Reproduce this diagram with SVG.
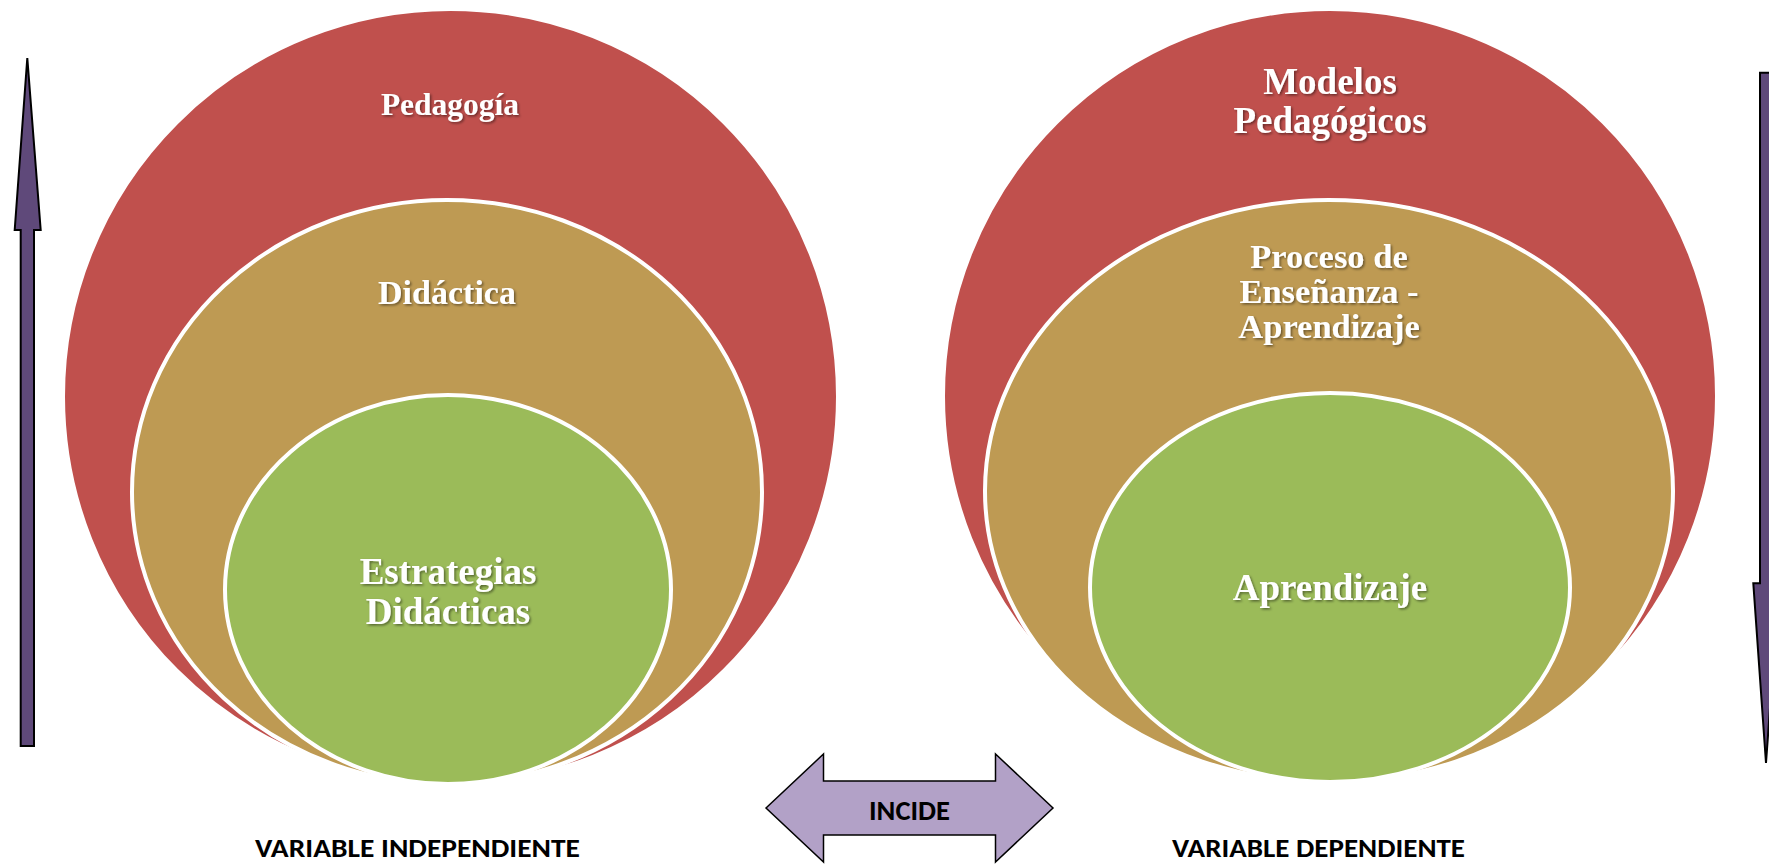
<svg xmlns="http://www.w3.org/2000/svg" width="1769" height="866" viewBox="0 0 1769 866">
  <defs>
    <filter id="txtShadow" x="-10%" y="-20%" width="120%" height="150%">
      <feDropShadow dx="1.5" dy="1.5" stdDeviation="1" flood-color="#000" flood-opacity="0.45"/>
    </filter>
  </defs>
  <style>
    .ring { stroke: #ffffff; stroke-width: 4; }
    .red { fill: #C0504D; }
    .tan { fill: #BE9A53; }
    .green { fill: #9BBB59; }
    .lbl { font-family: "Liberation Serif", "Times New Roman", serif; font-weight: bold; fill: #ffffff; text-anchor: middle; filter: url(#txtShadow); }
    .cap { font-family: Carlito, Lato, "Open Sans", sans-serif; font-weight: bold; fill: #000000; text-anchor: middle; }
    .darrow { fill: #5F497A; stroke: #000000; stroke-width: 2; stroke-linejoin: miter; }
    .larrow { fill: #B2A1C7; stroke: #000000; stroke-width: 1.5; stroke-linejoin: miter; }
  </style>

  <rect x="0" y="0" width="1769" height="866" fill="#ffffff"/>

  <!-- independent variable: nested sets -->
  <g id="pedagogia">
    <ellipse class="red ring" cx="450.5" cy="396.5" rx="387.5" ry="387.5"/>
    <text class="lbl" x="450" y="115" font-size="31.5">Pedagogía</text>
  </g>
  <g id="didactica">
    <ellipse class="tan ring" cx="447" cy="492" rx="315" ry="292"/>
    <text class="lbl" x="447" y="304" font-size="34">Didáctica</text>
  </g>
  <g id="estrategias-didacticas">
    <ellipse class="green ring" cx="448" cy="589.5" rx="223" ry="194.5"/>
    <text class="lbl" x="448" y="584" font-size="37">Estrategias</text>
    <text class="lbl" x="448" y="624" font-size="37">Didácticas</text>
  </g>

  <!-- dependent variable: nested sets -->
  <g id="modelos-pedagogicos">
    <ellipse class="red ring" cx="1330" cy="396" rx="387" ry="387"/>
    <text class="lbl" x="1330" y="94" font-size="37">Modelos</text>
    <text class="lbl" x="1330" y="133" font-size="37">Pedagógicos</text>
  </g>
  <g id="proceso-ensenanza-aprendizaje">
    <ellipse class="tan ring" cx="1329" cy="491" rx="344" ry="291"/>
    <text class="lbl" x="1329" y="268" font-size="34.5">Proceso de</text>
    <text class="lbl" x="1329" y="303" font-size="34.5">Enseñanza -</text>
    <text class="lbl" x="1329" y="338" font-size="34.5">Aprendizaje</text>
  </g>
  <g id="aprendizaje">
    <ellipse class="green ring" cx="1330" cy="587.5" rx="240" ry="194.5"/>
    <text class="lbl" x="1330" y="600" font-size="37">Aprendizaje</text>
  </g>

  <!-- block arrows -->
  <g id="arrows">
    <g id="arrow-up">
      <path class="darrow" d="M27.3,58 L40.7,230 L34,230 L34,746 L20.7,746 L20.7,230 L14.7,230 Z"/>
    </g>
    <g id="arrow-down">
      <path class="darrow" d="M1760,72.7 L1772.7,72.7 L1772.7,583.3 L1779,583.3 L1766,763 L1753.3,583.3 L1760,583.3 Z"/>
    </g>
    <g id="incide">
      <path class="larrow" d="M766,808 L823.5,754 L823.5,781 L995.5,781 L995.5,754 L1053,808 L995.5,862 L995.5,835 L823.5,835 L823.5,862 Z"/>
      <text class="cap" x="909.5" y="820" font-size="28" textLength="81" lengthAdjust="spacingAndGlyphs">INCIDE</text>
    </g>
  </g>

  <!-- captions -->
  <g id="caption-independiente">
    <text class="cap" x="417.5" y="857" font-size="27" textLength="325" lengthAdjust="spacingAndGlyphs">VARIABLE INDEPENDIENTE</text>
  </g>
  <g id="caption-dependiente">
    <text class="cap" x="1318.5" y="857" font-size="27" textLength="293" lengthAdjust="spacingAndGlyphs">VARIABLE DEPENDIENTE</text>
  </g>
</svg>
